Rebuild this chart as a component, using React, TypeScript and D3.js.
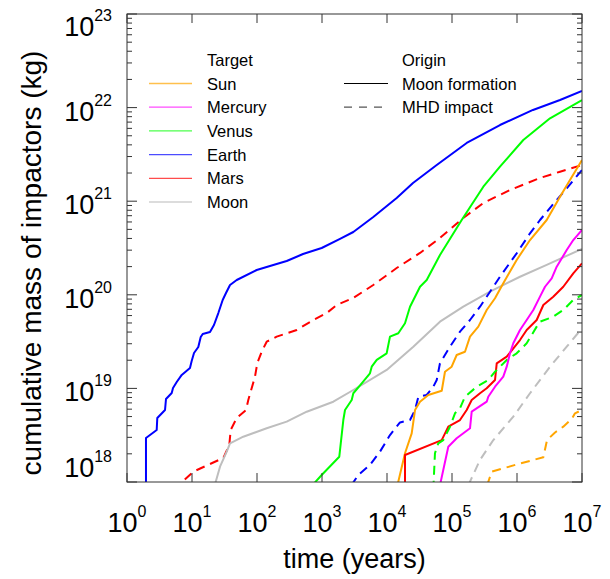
import React from "react";
import * as d3 from "d3";

// ---- data (log10 time in years, log10 cumulative mass in kg) ----
const targets = ["Sun", "Mercury", "Venus", "Earth", "Mars", "Moon"];
const targetColors = ["#FFA500", "#FF00FF", "#00FF00", "#0000FF", "#FF0000", "#BEBEBE"];
const origins = ["Moon formation", "MHD impact"];

const earthSolidT = [0.292, 0.292, 0.457, 0.466, 0.585, 0.6, 0.688, 0.708, 0.765, 0.842, 0.969, 0.995, 1.031, 1.097, 1.134, 1.165, 1.277, 1.338, 1.405, 1.472, 1.523, 1.585, 1.688, 1.995, 2.251, 2.457, 2.708, 2.995, 3.277, 3.482, 3.789, 4.149, 4.4, 4.765, 5.226, 5.738, 6.246, 6.662, 7.0];
const earthSolidM = [17.824, 18.47, 18.555, 18.684, 18.769, 18.887, 18.951, 19.004, 19.068, 19.144, 19.218, 19.292, 19.378, 19.442, 19.549, 19.581, 19.603, 19.677, 19.805, 19.945, 20.019, 20.105, 20.158, 20.265, 20.319, 20.361, 20.436, 20.5, 20.597, 20.671, 20.832, 21.034, 21.194, 21.387, 21.622, 21.814, 21.975, 22.081, 22.178];

const marsDashT = [0.72, 1.02, 1.482, 1.574, 1.595, 1.688, 1.831, 1.866, 1.969, 2.005, 2.072, 2.149, 2.303, 2.611, 2.866, 3.072, 3.226, 3.482, 3.789, 4.149, 4.508, 4.815, 5.174, 5.482, 5.892, 6.354, 6.662, 7.0];
const marsDashM = [17.917, 18.11, 18.257, 18.395, 18.555, 18.684, 18.769, 18.876, 19.125, 19.271, 19.392, 19.499, 19.553, 19.624, 19.731, 19.805, 19.891, 19.966, 20.105, 20.286, 20.447, 20.607, 20.821, 20.981, 21.12, 21.248, 21.315, 21.387];

const moonSolidT = [1.33, 1.431, 1.534, 1.585, 1.789, 2.149, 2.457, 2.765, 3.174, 3.482, 3.995, 4.405, 4.815, 5.174, 5.585, 6.046, 6.457, 7.0];
const moonSolidM = [17.917, 18.164, 18.324, 18.413, 18.484, 18.574, 18.645, 18.751, 18.858, 18.983, 19.197, 19.446, 19.713, 19.873, 20.033, 20.193, 20.319, 20.491];

const venusSolidT = [2.85, 2.995, 3.266, 3.328, 3.354, 3.457, 3.482, 3.611, 3.738, 3.765, 3.842, 3.995, 4.046, 4.174, 4.277, 4.354, 4.508, 4.611, 4.815, 5.149, 5.482, 5.738, 6.097, 6.508, 7.0];
const venusSolidM = [17.963, 18.075, 18.27, 18.662, 18.769, 18.876, 18.948, 19.054, 19.161, 19.232, 19.304, 19.375, 19.553, 19.589, 19.696, 19.873, 20.086, 20.158, 20.425, 20.799, 21.155, 21.369, 21.654, 21.886, 22.081];

const earthDashT = [3.45, 3.558, 3.738, 3.892, 4.046, 4.2, 4.354, 4.431, 4.482, 4.611, 4.712, 4.765, 4.815, 4.969, 5.123, 5.277, 5.431, 5.585, 5.738, 5.995, 6.2, 6.354, 6.611, 6.765, 7.0];
const earthDashM = [17.963, 18.075, 18.182, 18.324, 18.502, 18.636, 18.662, 18.769, 18.909, 18.93, 19.018, 19.09, 19.268, 19.446, 19.606, 19.731, 19.873, 20.033, 20.193, 20.443, 20.657, 20.799, 21.013, 21.138, 21.334];

const sunSolidT = [4.16, 4.277, 4.38, 4.431, 4.508, 4.635, 4.842, 4.892, 4.995, 5.072, 5.2, 5.277, 5.405, 5.534, 5.662, 5.789, 5.995, 6.2, 6.457, 6.662, 6.815, 7.0];
const sunSolidM = [17.963, 18.307, 18.52, 18.769, 18.858, 18.93, 18.975, 19.178, 19.232, 19.357, 19.392, 19.553, 19.66, 19.838, 19.963, 20.123, 20.372, 20.585, 20.799, 21.048, 21.227, 21.44];

const marsSolidT = [4.277, 4.277, 4.842, 4.943, 5.123, 5.226, 5.303, 5.431, 5.534, 5.662, 5.688, 5.842, 6.046, 6.149, 6.303, 6.405, 6.558, 6.712, 6.866, 7.0];
const marsSolidM = [17.917, 18.289, 18.448, 18.591, 18.662, 18.769, 18.876, 18.948, 19.001, 19.09, 19.268, 19.339, 19.517, 19.624, 19.731, 19.891, 19.98, 20.086, 20.229, 20.336];

const venusDashT = [4.712, 4.738, 4.789, 4.866, 4.969, 5.046, 5.123, 5.2, 5.38, 5.558, 5.662, 5.842, 5.995, 6.149, 6.303, 6.354, 6.558, 6.712, 6.866, 7.0];
const venusDashM = [17.917, 18.307, 18.413, 18.448, 18.591, 18.734, 18.788, 18.911, 19.018, 19.09, 19.178, 19.304, 19.375, 19.482, 19.66, 19.713, 19.766, 19.838, 19.945, 19.998];

const mercurySolidT = [4.8, 4.943, 5.072, 5.277, 5.303, 5.534, 5.558, 5.662, 5.789, 5.842, 5.892, 5.943, 6.046, 6.149, 6.251, 6.354, 6.431, 6.534, 6.611, 6.765, 6.866, 7.0];
const mercurySolidM = [17.917, 18.377, 18.467, 18.574, 18.751, 18.858, 18.911, 19.018, 19.125, 19.232, 19.375, 19.482, 19.624, 19.731, 19.838, 19.98, 20.086, 20.176, 20.3, 20.478, 20.585, 20.692];

const moonDashT = [5.25, 5.431, 5.636, 5.943, 6.2, 6.508, 6.765, 7.0];
const moonDashM = [17.963, 18.236, 18.448, 18.698, 18.948, 19.232, 19.446, 19.642];

const sunDashT = [5.54, 5.611, 5.995, 6.405, 6.462, 6.585, 6.712, 6.842, 6.892, 7.0];
const sunDashM = [17.963, 18.11, 18.187, 18.264, 18.448, 18.529, 18.591, 18.673, 18.734, 18.769];

const xTickExps = [0, 1, 2, 3, 4, 5, 6, 7];
const yTickExps = [18, 19, 20, 21, 22, 23];

const series = [
  { t: earthSolidT, m: earthSolidM, target: 3, origin: 0 },
  { t: marsDashT, m: marsDashM, target: 4, origin: 1 },
  { t: moonSolidT, m: moonSolidM, target: 5, origin: 0 },
  { t: venusSolidT, m: venusSolidM, target: 2, origin: 0 },
  { t: earthDashT, m: earthDashM, target: 3, origin: 1 },
  { t: sunSolidT, m: sunSolidM, target: 0, origin: 0 },
  { t: marsSolidT, m: marsSolidM, target: 4, origin: 0 },
  { t: venusDashT, m: venusDashM, target: 2, origin: 1 },
  { t: mercurySolidT, m: mercurySolidM, target: 1, origin: 0 },
  { t: moonDashT, m: moonDashM, target: 5, origin: 1 },
  { t: sunDashT, m: sunDashM, target: 0, origin: 1 },
];

const W = 610, H = 579;
const L = 127, R = 582, T = 14, B = 482;
const FONT = "'Liberation Sans', Arial, Helvetica, sans-serif";

export default function App() {
  const x = d3.scaleLog().domain([1, 1e7]).range([L, R]);
  const y = d3.scaleLog().domain([1e18, 1e23]).range([B, T]);

  const line = d3
    .line<[number, number]>()
    .x((d) => x(Math.pow(10, d[0])))
    .y((d) => y(Math.pow(10, d[1])));

  const axisColor = "#333";
  const minorY: number[] = [];
  for (let e = 18; e < 23; e++) {
    for (let k = 2; k <= 9; k++) minorY.push(k * Math.pow(10, e));
  }

  return (
    <svg width={W} height={H} style={{ position: "absolute", left: 0, top: 0, background: "#fff" }} fontFamily={FONT}>
      <defs>
        <clipPath id="plotclip">
          <rect x={L} y={T} width={R - L} height={B - T} />
        </clipPath>
      </defs>
      <rect x={0} y={0} width={W} height={H} fill="#fff" />

      {/* curves */}
      <g clipPath="url(#plotclip)" fill="none" strokeWidth={2} strokeLinejoin="round">
        {series.map((s, i) => (
          <path
            key={i}
            d={line(s.t.map((t, j) => [t, s.m[j]] as [number, number])) || ""}
            stroke={targetColors[s.target]}
            strokeDasharray={s.origin === 1 ? "9,6" : undefined}
          />
        ))}
      </g>

      {/* frame */}
      <rect x={L} y={T} width={R - L} height={B - T} fill="none" stroke={axisColor} strokeWidth={1} />

      {/* x ticks */}
      {xTickExps.map((e) => {
        const px = x(Math.pow(10, e));
        return (
          <g key={"xt" + e}>
            <line x1={px} x2={px} y1={B} y2={B - 9} stroke={axisColor} />
            <line x1={px} x2={px} y1={T} y2={T + 9} stroke={axisColor} />
            <text x={px} y={532} textAnchor="middle" fontSize={27} fill="#000">
              10<tspan dy={-15} fontSize={16}>{e}</tspan>
            </text>
          </g>
        );
      })}

      {/* y ticks */}
      {yTickExps.map((e) => {
        const py = y(Math.pow(10, e));
        const ly = Math.min(Math.max(py, T + 9), B - 18) + 13;
        return (
          <g key={"yt" + e}>
            <line x1={L} x2={L + 10} y1={py} y2={py} stroke={axisColor} />
            <line x1={R} x2={R - 10} y1={py} y2={py} stroke={axisColor} />
            <text x={112} y={ly} textAnchor="end" fontSize={27} fill="#000">
              10<tspan dy={-15} fontSize={16}>{e}</tspan>
            </text>
          </g>
        );
      })}
      {minorY.map((v, i) => {
        const py = y(v);
        return (
          <g key={"my" + i}>
            <line x1={L} x2={L + 5} y1={py} y2={py} stroke={axisColor} />
            <line x1={R} x2={R - 5} y1={py} y2={py} stroke={axisColor} />
          </g>
        );
      })}

      {/* axis titles */}
      <text x={(L + R) / 2} y={568} textAnchor="middle" fontSize={27} fill="#000">
        time (years)
      </text>
      <text
        transform={`translate(41, ${(T + B) / 2 + 15}) rotate(-90)`}
        textAnchor="middle"
        fontSize={28}
        fill="#000"
      >
        cumulative mass of impactors (kg)
      </text>

      {/* legend: targets */}
      <text x={207} y={65.5} fontSize={16.5} fill="#000">Target</text>
      {targets.map((name, i) => {
        const ly = 83.5 + i * 23.7;
        return (
          <g key={"lt" + i}>
            <line x1={149} x2={192} y1={ly} y2={ly} stroke={targetColors[i]} strokeWidth={1.3} strokeOpacity={0.7} />
            <text x={207} y={ly + 6} fontSize={16.5} fill="#000">{name}</text>
          </g>
        );
      })}

      {/* legend: origins */}
      <text x={402} y={65.5} fontSize={16.5} fill="#000">Origin</text>
      {origins.map((name, i) => {
        const ly = 83.5 + i * 23.7;
        return (
          <g key={"lo" + i}>
            <line
              x1={344}
              x2={388}
              y1={ly}
              y2={ly}
              stroke={i === 0 ? "#000" : "#555"}
              strokeWidth={1.2}
              strokeDasharray={i === 1 ? "8,7" : undefined}
            />
            <text x={402} y={ly + 6} fontSize={16.5} fill="#000">{name}</text>
          </g>
        );
      })}
    </svg>
  );
}
